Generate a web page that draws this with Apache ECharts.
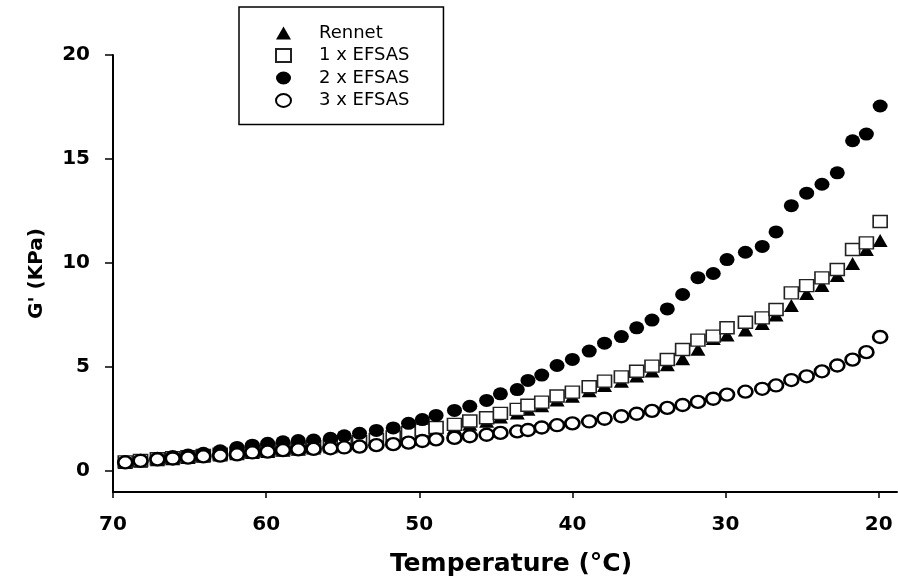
<!DOCTYPE html>
<html>
<head>
<meta charset="utf-8">
<script src="https://cdn.jsdelivr.net/npm/echarts@6/dist/echarts.min.js"></script>
<style>
  html, body { margin: 0; padding: 0; background: #fff; }
  #chart { width: 898px; height: 580px; }
</style>
</head>
<body>
<div id="chart"></div>
<script>
// temperature (°C), cooling run
const temps = [69.2, 68.2, 67.1, 66.1, 65.1, 64.1, 63.0, 61.9, 60.9, 59.9,
  58.9, 57.9, 56.9, 55.8, 54.9, 53.9, 52.8, 51.7, 50.7, 49.8,
  48.9, 47.7, 46.7, 45.6, 44.7, 43.6, 42.9, 42.0, 41.0, 40.0,
  38.9, 37.9, 36.8, 35.8, 34.8, 33.8, 32.8, 31.8, 30.8, 29.9,
  28.7, 27.6, 26.7, 25.7, 24.7, 23.7, 22.7, 21.7, 20.8, 19.9];

// G' (KPa)
const rennet = [0.42, 0.48, 0.55, 0.60, 0.66, 0.72, 0.78, 0.84, 0.90, 0.95,
  1.01, 1.06, 1.12, 1.18, 1.26, 1.34, 1.44, 1.56, 1.74, 1.86,
  1.97, 2.10, 2.25, 2.40, 2.60, 2.80, 2.98, 3.14, 3.42, 3.60,
  3.86, 4.12, 4.32, 4.58, 4.82, 5.12, 5.40, 5.86, 6.38, 6.55,
  6.78, 7.10, 7.50, 7.96, 8.54, 8.92, 9.40, 9.98, 10.65, 11.08];
const efsas1 = [0.45, 0.52, 0.60, 0.65, 0.70, 0.76, 0.82, 0.88, 0.95, 1.00,
  1.07, 1.12, 1.18, 1.25, 1.33, 1.42, 1.52, 1.65, 1.85, 1.98,
  2.10, 2.25, 2.41, 2.57, 2.78, 2.97, 3.17, 3.32, 3.61, 3.80,
  4.06, 4.33, 4.53, 4.80, 5.05, 5.37, 5.85, 6.30, 6.49, 6.89,
  7.16, 7.37, 7.77, 8.57, 8.92, 9.29, 9.69, 10.65, 10.97, 12.00];
const efsas2 = [0.45, 0.52, 0.62, 0.70, 0.78, 0.86, 0.98, 1.14, 1.25, 1.34,
  1.41, 1.47, 1.50, 1.58, 1.70, 1.82, 1.96, 2.08, 2.30, 2.48,
  2.68, 2.92, 3.12, 3.40, 3.72, 3.92, 4.36, 4.62, 5.08, 5.37,
  5.77, 6.15, 6.47, 6.89, 7.26, 7.80, 8.49, 9.30, 9.50, 10.17,
  10.52, 10.80, 11.50, 12.76, 13.36, 13.79, 14.34, 15.88, 16.20, 17.55];
const efsas3 = [0.42, 0.50, 0.57, 0.61, 0.65, 0.71, 0.75, 0.81, 0.90, 0.94,
  1.01, 1.05, 1.07, 1.10, 1.14, 1.18, 1.25, 1.30, 1.37, 1.45,
  1.53, 1.60, 1.68, 1.75, 1.84, 1.91, 1.98, 2.10, 2.21, 2.30,
  2.39, 2.52, 2.64, 2.76, 2.90, 3.04, 3.18, 3.33, 3.48, 3.68,
  3.82, 3.96, 4.12, 4.38, 4.56, 4.80, 5.08, 5.36, 5.72, 6.45];

const xTicks = [20, 30, 40, 50, 60, 70];
const yTicks = [0, 5, 10, 15, 20];
const names = ['Rennet', '1 x EFSAS', '2 x EFSAS', '3 x EFSAS'];

const ellipse = 'path://M0,6.5 A7.5,6.5 0 1,0 15,6.5 A7.5,6.5 0 1,0 0,6.5 Z';
const pairs = vals => temps.map((t, i) => [t, vals[i]]);

const chart = echarts.init(document.getElementById('chart'), null, { renderer: 'canvas' });

const option = {
  animation: false,
  backgroundColor: '#fff',
  grid: { left: 113, right: 1, top: 55, bottom: 88, containLabel: false, outerBoundsMode: 'none' },
  legend: {
    orient: 'vertical',
    left: 239,
    top: 7,
    padding: [17, 34, 15, 36],
    itemGap: 4.5,
    itemWidth: 15,
    itemHeight: 13,
    borderColor: '#000',
    borderWidth: 1.5,
    data: names,
    textStyle: {
      fontFamily: 'DejaVu Sans',
      fontSize: 18,
      lineHeight: 16,
      color: '#000',
      padding: [0, 0, 0, 23]
    }
  },
  xAxis: {
    type: 'value',
    inverse: true,
    min: 18.8,
    max: 70,
    name: 'Temperature (°C)',
    nameLocation: 'middle',
    nameGap: 60,
    nameTextStyle: {
      fontFamily: 'DejaVu Sans',
      fontWeight: 'bold',
      fontSize: 25,
      color: '#000',
      padding: [0, 0, 0, 12]
    },
    axisLine: { onZero: false, lineStyle: { color: '#000', width: 2 } },
    axisTick: { customValues: xTicks, length: 6, lineStyle: { color: '#000', width: 1.5 } },
    axisLabel: {
      customValues: xTicks,
      margin: 23,
      fontFamily: 'DejaVu Sans',
      fontWeight: 'bold',
      fontSize: 20,
      color: '#000'
    },
    splitLine: { show: false }
  },
  yAxis: {
    type: 'value',
    min: -1,
    max: 20,
    name: "G' (KPa)",
    nameLocation: 'middle',
    nameGap: 66,
    nameTextStyle: {
      fontFamily: 'DejaVu Sans',
      fontWeight: 'bold',
      fontSize: 20,
      color: '#000'
    },
    axisLine: { onZero: false, lineStyle: { color: '#000', width: 2 } },
    axisTick: { customValues: yTicks, length: 8, lineStyle: { color: '#000', width: 1.5 } },
    axisLabel: {
      customValues: yTicks,
      margin: 23,
      fontFamily: 'DejaVu Sans',
      fontWeight: 'bold',
      fontSize: 20,
      color: '#000'
    },
    splitLine: { show: false }
  },
  series: [
    {
      name: names[0],
      type: 'scatter',
      symbol: 'triangle',
      symbolSize: [15, 13],
      itemStyle: { color: '#000', opacity: 1 },
      data: pairs(rennet)
    },
    {
      name: names[1],
      type: 'scatter',
      symbol: 'rect',
      symbolSize: [14, 12],
      itemStyle: { color: '#fff', borderColor: '#222', borderWidth: 1.5, opacity: 1 },
      data: pairs(efsas1)
    },
    {
      name: names[2],
      type: 'scatter',
      symbol: ellipse,
      symbolSize: [15, 13],
      itemStyle: { color: '#000', opacity: 1 },
      data: pairs(efsas2)
    },
    {
      name: names[3],
      type: 'scatter',
      symbol: ellipse,
      symbolSize: [14, 12],
      itemStyle: { color: '#fff', borderColor: '#000', borderWidth: 2.5, opacity: 1 },
      data: pairs(efsas3)
    }
  ]
};

chart.setOption(option);
</script>
</body>
</html>
